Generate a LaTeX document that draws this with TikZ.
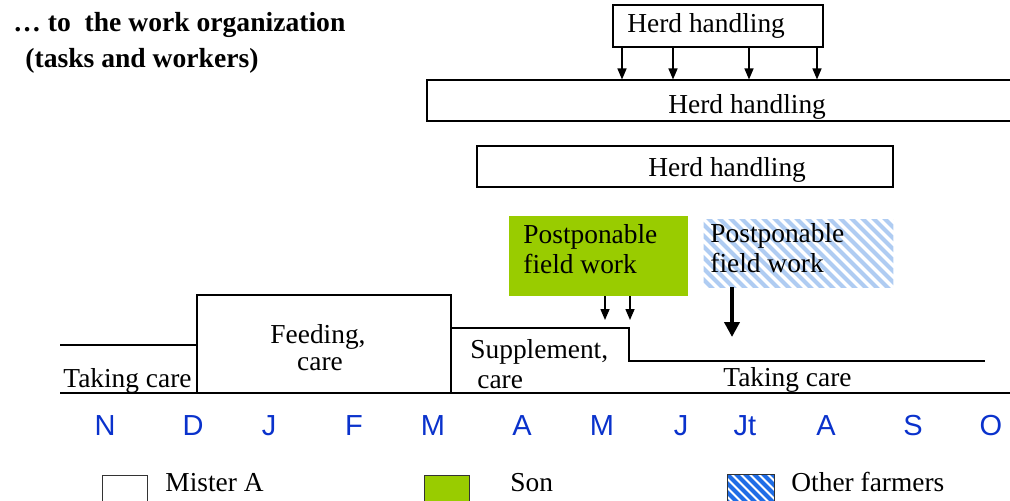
\documentclass[tikz,border=0pt]{standalone}
\usepackage{fontspec}
\setmainfont{Liberation Serif}
\newfontfamily\monthfont{Liberation Sans}
\usetikzlibrary{arrows.meta,fit}
\definecolor{songreen}{HTML}{99CC00}
\definecolor{hatchlight}{HTML}{AFCCF2}
\definecolor{hatchdark}{HTML}{1F6DE6}
\definecolor{monthblue}{HTML}{0A32CC}
\definecolor{edgegray}{HTML}{333333}
\begin{document}
\begin{tikzpicture}[x=0.5pt,y=-0.5pt,
  txt/.style={font=\fontsize{13.7}{16}\selectfont, inner sep=0pt, anchor=base west},
  ctxt/.style={font=\fontsize{13.7}{16}\selectfont, inner sep=0pt, anchor=base},
  ttl/.style={font=\fontsize{13.8}{16}\selectfont\bfseries, inner sep=0pt, anchor=base west},
  mon/.style={font=\fontsize{14.5}{16}\selectfont\monthfont, text=monthblue, inner sep=0pt, anchor=center},
  box/.style={draw=black, line width=0.55pt, inner sep=0pt},
  area/.style={inner sep=0pt},
  stepline/.style={draw=black, line width=0.55pt},
  thin/.style={line width=0.75pt, -{Triangle[width=4.5pt,length=5.5pt]}},
  thick/.style={line width=2pt, -{Triangle[width=7.5pt,length=7.5pt]}},
  lbox/.style={draw=edgegray, line width=0.5pt, inner sep=0pt}
]
\useasboundingbox (0,0) rectangle (1010,500);

% title
\node[ttl] (t1) at (13,31) {\ldots\ to\ \ the work organization};
\node[ttl] (t2) at (25,67) {(tasks and workers)};

% herd handling boxes
\node[box, fit={(613,5) (823,47)}] (hh1) {};
\node[txt] (hh1t) at (627,32) {Herd handling};
\node[box, fit={(427,80) (1014,121)}] (hh2) {};
\node[txt] (hh2t) at (668,113) {Herd handling};
\node[box, fit={(477,146) (893,187)}] (hh3) {};
\node[txt] (hh3t) at (648,176) {Herd handling};

\foreach \x [count=\i] in {622,673,749,817}{
  \coordinate (ha\i) at (\x,47);
  \draw[thin] (ha\i) -- (ha\i |- hh2.north);
}

% son field work
\node[area, fill=songreen, fit={(509,216) (688,296)}] (pf1) {};
\node[txt] (pf1a) at (523,243) {Postponable};
\node[txt] (pf1b) at (523,273) {field work};

% other farmers field work (hatched)
\node[area, fit={(704,220) (893,287)}] (pf2) {};
\begin{scope}
  \clip (pf2.north west) rectangle (pf2.south east);
  \foreach \i in {-80,-69,...,200}
    \draw[hatchlight, line width=2pt] (704+\i,200) -- ++(110,110);
\end{scope}
\node[txt] (pf2a) at (710,242) {Postponable};
\node[txt] (pf2b) at (710,272) {field work};

% step lines (tasks)
\draw[stepline] (60,345) -- (196,345);
\draw[stepline] (197,393) -- (197,295) -- (451,295) -- (451,393);
\draw[stepline] (451,328) -- (629,328) -- (629,361) -- (985,361);
\draw[stepline] (60,393) -- (1012,393);

\node[txt] (tc1) at (63,387) {Taking care};
\node[ctxt] (fc1) at (318,343) {Feeding,};
\node[ctxt] (fc2) at (320,370) {care};
\node[txt] (sc1) at (470,358) {Supplement,};
\node[txt] (sc2) at (477,388) {care};
\node[txt] (tc2) at (723,386) {Taking care};

% arrows from field work
\coordinate (s1) at (605,296);
\coordinate (s2) at (630,296);
\coordinate (e1) at (605,320);
\coordinate (e2) at (630,320);
\draw[thin] (s1) -- (e1);
\draw[thin] (s2) -- (e2);
\coordinate (b1) at (732,287);
\coordinate (b2) at (732,337);
\draw[thick] (b1) -- (b2);

% months
\foreach \x/\m [count=\i] in {105/N,193/D,269/J,354/F,433/M,522/A,602/M,681/J,745/Jt,826/A,913/S,991/O}
  \node[mon] (m\i) at (\x,426) {\m};

% legend
\node[lbox, fill=white, fit={(102,475) (147,505)}] (lg1) {};
\node[txt] (lg1t) at (165,491) {Mister A};
\node[lbox, fill=songreen, fit={(424,475) (469,505)}] (lg2) {};
\node[txt] (lg2t) at (510,491) {Son};
\node[area, fit={(728,475) (774,505)}] (lg3) {};
\begin{scope}
  \clip (lg3.north west) rectangle (lg3.south east);
  \foreach \i in {-60,-51,...,60}
    \draw[hatchdark, line width=2pt] (728+\i,460) -- ++(60,60);
\end{scope}
\draw[edgegray, line width=0.5pt] (lg3.south west) -- (lg3.north west) -- (lg3.north east) -- (lg3.south east);
\node[txt] (lg3t) at (791,491) {Other farmers};
\end{tikzpicture}
\end{document}
